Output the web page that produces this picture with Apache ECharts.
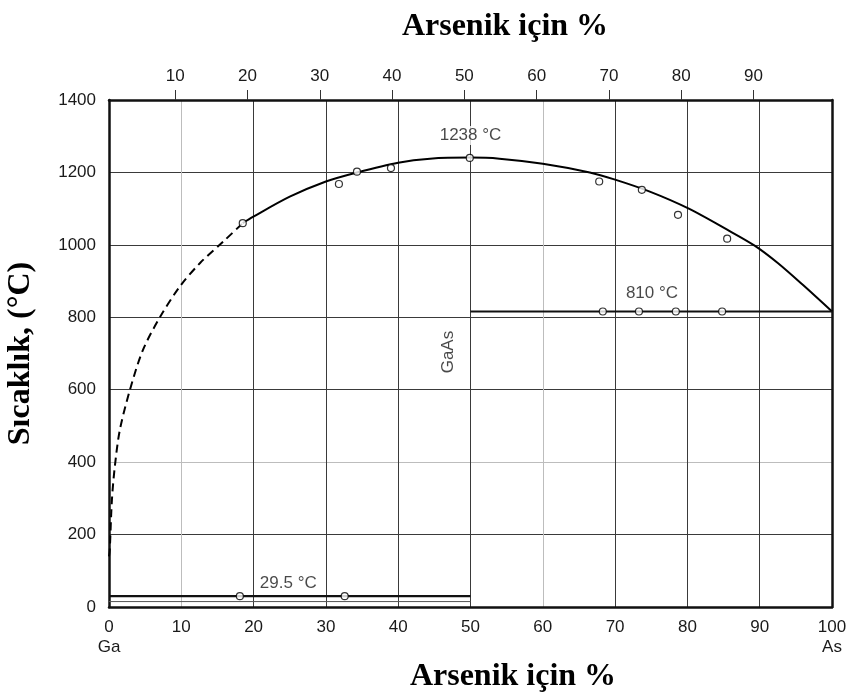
<!DOCTYPE html>
<html>
<head>
<meta charset="utf-8">
<script src="https://cdn.jsdelivr.net/npm/echarts@6/dist/echarts.min.js"></script>
<style>html,body{margin:0;padding:0;background:#fff;}#c{width:854px;height:696px;}</style>
</head>
<body>
<div id="c"></div>
<script>
// ---- data ----
const xTicks = [0, 10, 20, 30, 40, 50, 60, 70, 80, 90, 100];
const topTicks = [10, 20, 30, 40, 50, 60, 70, 80, 90];
const yTicks = [0, 200, 400, 600, 800, 1000, 1200, 1400];

const dashedX = [0, 0.1, 0.4, 0.8, 1.5, 2.9, 4.7, 7.1, 9.8, 12.6, 15.8, 18.5];
const dashedY = [140, 156, 295, 387, 489, 600, 710, 802, 885, 950, 1009, 1060];

const solidX = [18.5, 19.9, 25, 30, 34.3, 40, 44.4, 50, 54, 60, 66.5, 70, 74.8, 80.2, 85.5, 89.3, 92.5, 96, 100];
const solidY = [1060, 1077, 1133, 1175, 1200, 1227, 1238, 1241, 1238, 1224, 1200, 1180, 1147, 1100, 1042, 998, 950, 889, 816];

const liqPtsX = [18.5, 31.8, 34.3, 39.0, 49.9, 67.8, 73.7, 78.7, 85.5];
const liqPtsY = [1060, 1168, 1202, 1212, 1240, 1175, 1152, 1083, 1017];

const eutHighX = [50, 100];
const eutHighT = 816;
const eutHighPtsX = [68.3, 73.3, 78.4, 84.8];

const eutLowX = [0, 50];
const eutLowT = 30;
const eutLowPtsX = [18.1, 32.6];

const thinLineX = [0, 50];
const thinLineT = 15;

const annotations = [
  {x: 50, y: 1241, text: '1238 °C', dy: -22, rot: 0},
  {x: 75.1, y: 816, text: '810 °C', dy: -18, rot: 0},
  {x: 24.8, y: 30, text: '29.5 °C', dy: -13, rot: 0},
  {x: 46.9, y: 704, text: 'GaAs', dy: 0, rot: 90}
];
const topShift = 0.85;

// ---- build ----
const zip = (xs, ys) => xs.map((x, i) => [x, ys[i]]);
const dark = '#3a3a3a', light = '#bdbdbd';
const xSplitColors = xTicks.map(v => (v === 10 || v === 60) ? light : dark);
const ySplitColors = yTicks.map(v => (v === 400) ? light : dark);
const tickFont = {fontFamily: 'Liberation Sans, Arial, sans-serif', fontSize: 17, color: '#1a1a1a'};
const titleFont = {fontFamily: 'Liberation Serif, Times New Roman, serif', fontSize: 32, fontWeight: 'bold', color: '#000'};

const chart = echarts.init(document.getElementById('c'));
chart.setOption({
  animation: false,
  backgroundColor: '#fff',
  title: [
    {text: 'Arsenik için %', left: 500, top: 6, textAlign: 'center', textStyle: titleFont},
    {text: 'Arsenik için %', left: 508, top: 656, textAlign: 'center', textStyle: titleFont}
  ],
  grid: {left: 109, right: 22, top: 100, bottom: 89, containLabel: false, outerBoundsMode: 'none'},
  xAxis: [
    {
      type: 'value', position: 'bottom', min: 0, max: 100, interval: 10,
      axisLine: {show: true, onZero: false, lineStyle: {color: '#111', width: 2.5}},
      axisTick: {show: false},
      axisLabel: Object.assign({margin: 10, lineHeight: 20,
        formatter: v => v === 0 ? '0\nGa' : (v === 100 ? '100\nAs' : String(v))}, tickFont),
      splitLine: {show: true, lineStyle: {color: xSplitColors, width: 1}}
    },
    {
      type: 'value', position: 'top', min: topShift, max: 100 + topShift,
      axisLine: {show: true, onZero: false, lineStyle: {color: '#111', width: 2.5}},
      axisTick: {show: true, inside: false, length: 10, customValues: topTicks, lineStyle: {color: '#333', width: 1}},
      axisLabel: Object.assign({margin: 15, customValues: topTicks}, tickFont),
      splitLine: {show: false}
    }
  ],
  yAxis: [
    {
      type: 'value', min: 0, max: 1400, interval: 200,
      name: 'Sıcaklık, (°C)', nameLocation: 'middle', nameGap: 72, nameRotate: 90,
      nameTextStyle: titleFont,
      axisLine: {show: true, onZero: false, lineStyle: {color: '#111', width: 2.5}},
      axisTick: {show: false},
      axisLabel: Object.assign({margin: 13, formatter: v => String(v)}, tickFont),
      splitLine: {show: true, lineStyle: {color: ySplitColors, width: 1}}
    },
    {
      type: 'value', position: 'right', min: 0, max: 1400, interval: 200,
      axisLine: {show: true, onZero: false, lineStyle: {color: '#111', width: 2.5}},
      axisTick: {show: false}, axisLabel: {show: false}, splitLine: {show: false}
    }
  ],
  series: [
    {type: 'line', data: zip(dashedX, dashedY), smooth: 0.3, symbol: 'none',
      lineStyle: {color: '#000', width: 2, type: [8, 5]}, z: 3},
    {type: 'line', data: zip(solidX, solidY), smooth: 0.3, symbol: 'none',
      lineStyle: {color: '#000', width: 2}, z: 3},
    {type: 'line', data: eutHighX.map(x => [x, eutHighT]), symbol: 'none',
      lineStyle: {color: '#111', width: 2}, z: 3},
    {type: 'line', data: eutLowX.map(x => [x, eutLowT]), symbol: 'none',
      lineStyle: {color: '#111', width: 2.2}, z: 3},
    {type: 'line', data: thinLineX.map(x => [x, thinLineT]), symbol: 'none',
      lineStyle: {color: '#555', width: 1}, z: 3},
    {type: 'scatter', symbol: 'circle', symbolSize: 7,
      data: zip(liqPtsX, liqPtsY)
        .concat(eutHighPtsX.map(x => [x, eutHighT]))
        .concat(eutLowPtsX.map(x => [x, eutLowT])),
      itemStyle: {color: '#fff', borderColor: '#000', borderWidth: 1.2}, z: 5},
    {type: 'scatter', symbolSize: 0, z: 6, silent: true,
      data: annotations.map(a => ({
        value: [a.x, a.y],
        label: {show: true, formatter: a.text, position: 'inside', offset: [0, a.dy], rotate: a.rot,
          fontFamily: 'Liberation Sans, Arial, sans-serif', fontSize: 17, color: '#1a1a1a',
          backgroundColor: a.rot ? 'transparent' : '#fff', padding: [1, 1]}
      }))}
  ]
});
</script>
</body>
</html>
